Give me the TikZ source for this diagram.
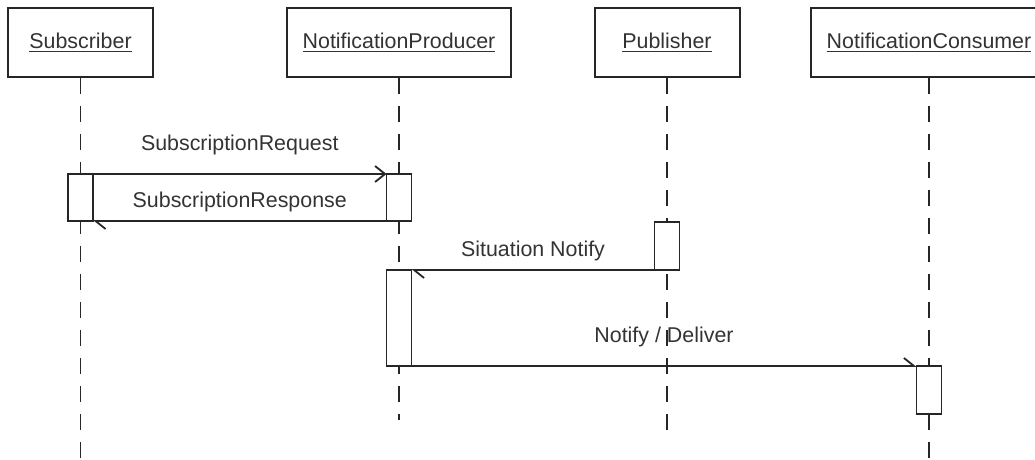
\documentclass[tikz,border=0pt]{standalone}
\usepackage{fontspec}
\setmainfont{Liberation Sans}
\usetikzlibrary{positioning, arrows.meta}

\begin{document}
\begin{tikzpicture}[x=0.5pt, y=-0.5pt]
  \newcommand\lblhigh{14.5pt}
  \newcommand\lbllow{9.5pt}
  \newcommand\headdown{below}

  \tikzset{head/.style={draw=black!85, line width=1pt, fill=white, text=black!80, minimum width=72.5pt, minimum height=34.5pt, inner xsep=7.75pt, font=\fontsize{10.7pt}{13pt}\selectfont}}
  \tikzset{lifeline/.style={draw=black!85, line width=0.9pt, dash pattern=on 8pt off 6pt}}
  \tikzset{actbar/.style={draw=black!85, line width=0.9pt, fill=white, minimum width=12.5pt, inner sep=0pt, outer sep=0pt}}
  \tikzset{msg/.style={draw=black!85, line width=0.9pt}}
  \tikzset{full/.style={msg, -{Straight Barb[length=5pt, width=8pt]}}}
  \tikzset{half/.style={msg, -{Straight Barb[harpoon, length=5pt, width=8pt]}}}
  \tikzset{lbl/.style={text=black!80, font=\fontsize{10.7pt}{13pt}\selectfont}}

  \useasboundingbox (0,0) rectangle (1035,460);

  % heads and lifelines
  \foreach \name/\title/\x/\len in {sub/Subscriber/80.5/460, np/NotificationProducer/399/420, pub/Publisher/667/440, con/NotificationConsumer/929/460}{
    \node[head] (\name) at (\x, 42.5) {\underline{\title}};
    \coordinate (\name-end) at (\name.south |- 0, \len);
    \draw[lifeline] (\name.south) -- (\name-end);
  }

  % activations
  \node[actbar, minimum height=23.5pt, \headdown=48pt of sub.south] (sub-act) {};
  \node[actbar, minimum height=23.5pt, \headdown=48pt of np.south] (np-act1) {};
  \node[actbar, minimum height=24pt, \headdown=72pt of pub.south] (pub-act) {};
  \node[actbar, minimum height=48pt, \headdown=96pt of np.south] (np-act2) {};
  \node[actbar, minimum height=24pt, \headdown=144pt of con.south] (con-act) {};

  % messages
  \draw[full] (sub-act.north east) -- (np-act1.north west) node[lbl, midway, yshift=\lblhigh] {SubscriptionRequest};
  \draw[half] (np-act1.south west) -- (sub-act.south east) node[lbl, midway, yshift=\lbllow] {SubscriptionResponse};
  \draw[half] (pub-act.south west) -- (np-act2.north east) node[lbl, midway, yshift=\lbllow] {Situation Notify};
  \draw[half] (np-act2.south east) -- (con-act.north west) node[lbl, midway, yshift=\lblhigh] {Notify / Deliver};
\end{tikzpicture}
\end{document}
